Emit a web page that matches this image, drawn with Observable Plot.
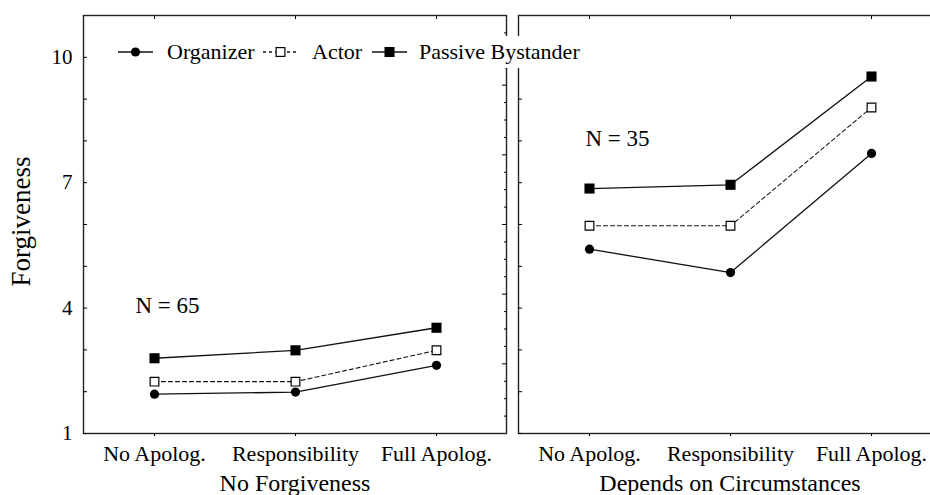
<!DOCTYPE html>
<html>
<head>
<meta charset="utf-8">
<script src="https://cdn.jsdelivr.net/npm/d3@7"></script>
<script src="https://cdn.jsdelivr.net/npm/@observablehq/plot@0.6"></script>
<style>
html, body { margin: 0; padding: 0; background: #fff; overflow: hidden; }
#wrap { position: relative; width: 930px; height: 495px; overflow: hidden; }
#wrap > svg { max-width: none !important; width: 945px; height: 495px; }
#legend { position: absolute; left: 112px; top: 36px; width: 478px; height: 32px; background: #fff;
  font-family: "Liberation Serif", "Times New Roman", serif; font-size: 22px; color: #000; white-space: nowrap; }
#legend .sw { position: absolute; top: 8px; display: block; }
#legend .lbl { position: absolute; top: 0; height: 32px; line-height: 32px; }
</style>
</head>
<body>
<div id="wrap"></div>
<script>
// ---- data ----
const conditions = ["No Forgiveness", "Depends on Circumstances"];
const apologyTypes = ["No Apolog.", "Responsibility", "Full Apolog."];
const seriesNames = ["Organizer", "Actor", "Passive Bystander"];

const organizerNoForgiveness = [1.94, 1.99, 2.63];
const organizerDepends = [5.41, 4.85, 7.70];
const actorNoForgiveness = [2.24, 2.24, 2.99];
const actorDepends = [5.97, 5.97, 8.80];
const bystanderNoForgiveness = [2.80, 2.99, 3.53];
const bystanderDepends = [6.86, 6.95, 9.54];

const sampleSizes = ["N = 65", "N = 35"];
const yTitle = "Forgiveness";
const yTickLabels = [1, 4, 7, 10];
const yMinorTicks = d3.range(1, 11);
const yDomain = [1, 11];

// ---- table built from the arrays ----
const valuesBySeries = {
  "Organizer": [organizerNoForgiveness, organizerDepends],
  "Actor": [actorNoForgiveness, actorDepends],
  "Passive Bystander": [bystanderNoForgiveness, bystanderDepends]
};
const rows = [];
for (const s of seriesNames) {
  conditions.forEach((c, ci) => {
    apologyTypes.forEach((a, ai) => {
      rows.push({series: s, condition: c, apology: a, value: valuesBySeries[s][ci][ai]});
    });
  });
}
const bySeries = s => rows.filter(d => d.series === s);
const nRows = conditions.map((c, i) => ({condition: c, label: sampleSizes[i]}));
const titleRows = [{condition: conditions[0], label: yTitle}];

// secondary tick ruler on the right edge of the left panel (24 divisions)
const rightTicks = d3.range(1, 24).map(k => yDomain[0] + k * (yDomain[1] - yDomain[0]) / 24);
const rightTicksMajor = rightTicks.filter((_, i) => (i + 1) % 4 === 0);
const rightTicksMinor = rightTicks.filter((_, i) => (i + 1) % 4 !== 0);

const ink = "#111";
const lineW = 1.3;

const chart = Plot.plot({
  width: 945,
  height: 495,
  marginLeft: 83,
  marginRight: 4,
  marginTop: 15,
  marginBottom: 62,
  style: {fontFamily: "'Liberation Serif', 'Times New Roman', serif", fontSize: "21px", color: "#000", background: "#fff", maxWidth: "none"},
  fx: {domain: conditions, paddingInner: 12 / 435, paddingOuter: 0, label: null},
  x: {domain: apologyTypes, type: "point", padding: 0.5, label: null},
  y: {domain: yDomain, label: null},
  marks: [
    Plot.frame({stroke: "#222", strokeWidth: 1.4}),
    // y axis labels (left panel)
    Plot.axisY({anchor: "left", ticks: yTickLabels, tickSize: 0, tickPadding: 11, fontSize: 21, label: null}),
    // y title
    Plot.text(titleRows, {fx: "condition", text: "label", frameAnchor: "left", rotate: -90, textAnchor: "middle",
      lineAnchor: "middle", dx: -62, dy: -3, fontSize: 27, fill: "#000"}),
    // inward integer ticks on the left edge of both panels
    Plot.axisY({anchor: "left", ticks: yMinorTicks, tickSize: -4, tickFormat: () => "", label: null, facetAnchor: null}),
    // ruler ticks on the right edge of the left panel
    Plot.axisY({anchor: "right", ticks: rightTicksMinor, tickSize: -3, tickFormat: () => "", label: null, facetAnchor: "left"}),
    Plot.axisY({anchor: "right", ticks: rightTicksMajor, tickSize: -5, tickFormat: () => "", label: null, facetAnchor: "left"}),
    // x axes
    Plot.axisX({anchor: "bottom", tickSize: 3, tickPadding: 9, fontSize: 22, label: null}),
    Plot.axisX({anchor: "top", tickSize: -3, tickFormat: () => "", label: null}),
    Plot.axisFx({anchor: "bottom", tickSize: 0, tickPadding: 40, fontSize: 24, label: null}),
    // lines
    Plot.line(bySeries("Organizer"), {fx: "condition", x: "apology", y: "value", stroke: ink, strokeWidth: lineW}),
    Plot.line(bySeries("Actor"), {fx: "condition", x: "apology", y: "value", stroke: ink, strokeWidth: 1.1, strokeDasharray: "4,3"}),
    Plot.line(bySeries("Passive Bystander"), {fx: "condition", x: "apology", y: "value", stroke: ink, strokeWidth: lineW}),
    // markers
    Plot.dot(bySeries("Organizer"), {fx: "condition", x: "apology", y: "value", symbol: "circle", r: 4.6, fill: "#000"}),
    Plot.dot(bySeries("Actor"), {fx: "condition", x: "apology", y: "value", symbol: "square", r: 4.9, fill: "#fff", stroke: "#000", strokeWidth: 1.2}),
    Plot.dot(bySeries("Passive Bystander"), {fx: "condition", x: "apology", y: "value", symbol: "square", r: 5.7, fill: "#000"}),
    // sample-size notes
    Plot.text(nRows.filter(d => d.condition === conditions[0]), {fx: "condition", text: "label", frameAnchor: "top-left",
      textAnchor: "start", lineAnchor: "middle", dx: 52, dy: 290, fontSize: 23, fill: "#000"}),
    Plot.text(nRows.filter(d => d.condition === conditions[1]), {fx: "condition", text: "label", frameAnchor: "top-left",
      textAnchor: "start", lineAnchor: "middle", dx: 67, dy: 123, fontSize: 23, fill: "#000"})
  ]
});

const wrap = document.getElementById("wrap");
chart.style.maxWidth = "none";
wrap.appendChild(chart);

// ---- legend (drawn on top, white background) ----
const legend = document.createElement("div");
legend.id = "legend";
const legendLeft = 112;
const swatchX = {"Organizer": 118, "Actor": 263, "Passive Bystander": 372};
const labelX = {"Organizer": 167, "Actor": 312, "Passive Bystander": 419};
const swatch = (name) => {
  const w = 35, h = 16, cy = 8, cx = 17.5;
  let marker = "";
  let dash = "";
  if (name === "Organizer") marker = `<circle cx="${cx}" cy="${cy}" r="4.6" fill="#000"/>`;
  else if (name === "Actor") { marker = `<rect x="${cx - 4.4}" y="${cy - 4.4}" width="8.8" height="8.8" fill="#fff" stroke="#000" stroke-width="1.2"/>`; dash = ' stroke-dasharray="3,3"'; }
  else marker = `<rect x="${cx - 5}" y="${cy - 5}" width="10" height="10" fill="#000"/>`;
  return `<svg class="sw" style="left:${swatchX[name] - legendLeft}px" width="${w}" height="${h}"><line x1="0" x2="${w}" y1="${cy}" y2="${cy}" stroke="#111" stroke-width="1.3"${dash}/>${marker}</svg>`;
};
legend.innerHTML = seriesNames.map(s =>
  swatch(s) + `<span class="lbl" style="left:${labelX[s] - legendLeft}px">${s}</span>`
).join("");
wrap.appendChild(legend);
</script>
</body>
</html>
